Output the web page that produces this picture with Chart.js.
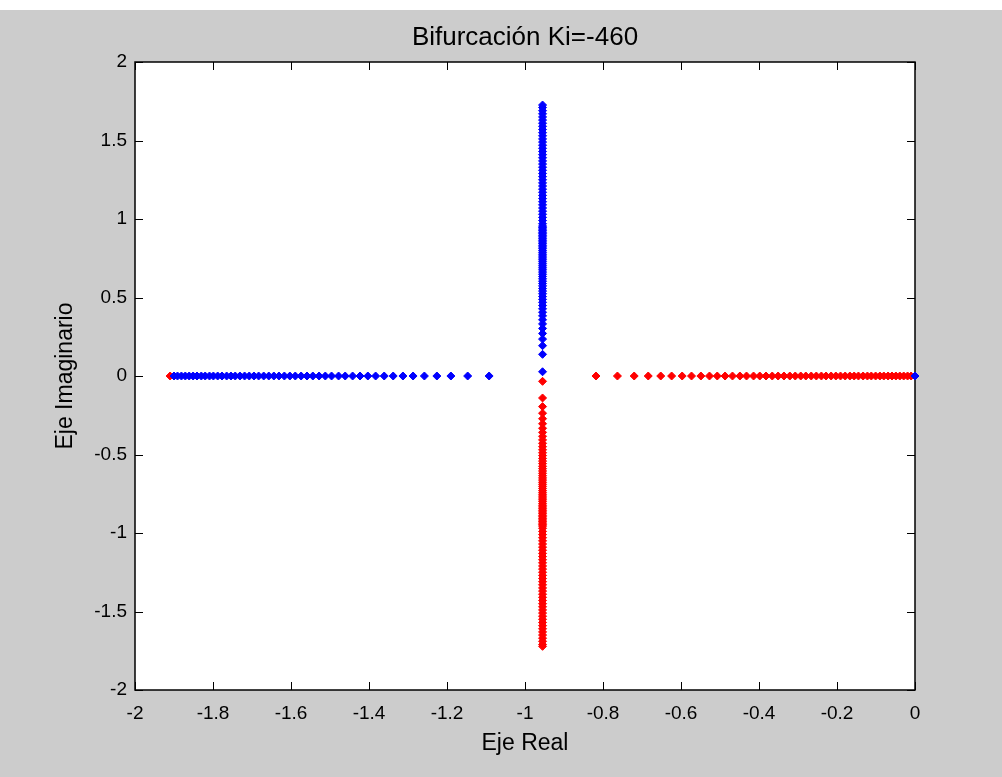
<!DOCTYPE html>
<html>
<head>
<meta charset="utf-8">
<script src="https://cdn.jsdelivr.net/npm/chart.js@4/dist/chart.umd.min.js"></script>
<style>
  html, body { margin: 0; padding: 0; background: #fff; }
  #wrap { position: absolute; left: 0; top: 10px; width: 1002px; height: 767px; background: #cccccc; }
</style>
</head>
<body>
<div id="wrap"><canvas id="locus" width="1002" height="767"></canvas></div>
<script>
// Bifurcation data
const titleText = "Bifurcación Ki=-460";
const realCenter = -0.955;

// roots on the real axis
const blueReal = [0, -1.900, -1.891, -1.881, -1.871, -1.861, -1.851, -1.841, -1.830, -1.820, -1.809,
  -1.799, -1.788, -1.777, -1.765, -1.754, -1.743, -1.731, -1.719, -1.707, -1.695, -1.683, -1.670,
  -1.657, -1.644, -1.631, -1.617, -1.603, -1.589, -1.574, -1.559, -1.544, -1.528, -1.512, -1.496,
  -1.478, -1.461, -1.442, -1.423, -1.403, -1.383, -1.361, -1.338, -1.313, -1.287, -1.258, -1.226,
  -1.190, -1.147, -1.092];
const redReal = [-1.910, -0.010, -0.019, -0.029, -0.039, -0.049, -0.059, -0.069, -0.080, -0.090,
  -0.101, -0.112, -0.122, -0.133, -0.145, -0.156, -0.167, -0.179, -0.191, -0.203, -0.215, -0.228,
  -0.240, -0.253, -0.266, -0.280, -0.293, -0.307, -0.321, -0.336, -0.351, -0.366, -0.382, -0.398,
  -0.414, -0.432, -0.449, -0.468, -0.487, -0.507, -0.527, -0.549, -0.573, -0.597, -0.624, -0.652,
  -0.684, -0.720, -0.763, -0.818];

// complex pair, imaginary parts (real part = realCenter)
const blueImag = [0.027, 0.138, 0.193, 0.235, 0.271, 0.303, 0.332, 0.358, 0.383, 0.406, 0.428,
  0.449, 0.469, 0.488, 0.506, 0.524, 0.541, 0.557, 0.574, 0.589, 0.604, 0.619, 0.634, 0.648, 0.662,
  0.676, 0.689, 0.702, 0.715, 0.728, 0.740, 0.752, 0.764, 0.776, 0.788, 0.799, 0.811, 0.822, 0.833,
  0.844, 0.854, 0.865, 0.875, 0.886, 0.896, 0.906, 0.916, 0.926, 0.936, 0.946, 0.955, 0.97, 0.99,
  1.01, 1.03, 1.05, 1.07, 1.09, 1.11, 1.13, 1.15, 1.17, 1.19, 1.21, 1.23, 1.25, 1.27, 1.29, 1.31,
  1.33, 1.35, 1.37, 1.39, 1.41, 1.43, 1.45, 1.47, 1.49, 1.51, 1.53, 1.55, 1.57, 1.59, 1.61, 1.63,
  1.65, 1.67, 1.69, 1.71, 1.726];
const redImag = [-0.034, -0.140, -0.195, -0.237, -0.272, -0.304, -0.333, -0.359, -0.384, -0.407,
  -0.429, -0.450, -0.470, -0.489, -0.507, -0.525, -0.542, -0.558, -0.575, -0.590, -0.605, -0.620,
  -0.635, -0.649, -0.663, -0.677, -0.690, -0.703, -0.716, -0.729, -0.741, -0.753, -0.765, -0.777,
  -0.789, -0.800, -0.812, -0.823, -0.834, -0.845, -0.855, -0.866, -0.876, -0.887, -0.897, -0.907,
  -0.917, -0.927, -0.937, -0.947, -0.956, -0.97, -0.99, -1.01, -1.03, -1.05, -1.07, -1.09, -1.11,
  -1.13, -1.15, -1.17, -1.19, -1.21, -1.23, -1.25, -1.27, -1.29, -1.31, -1.33, -1.35, -1.37, -1.39,
  -1.41, -1.43, -1.45, -1.47, -1.49, -1.51, -1.53, -1.55, -1.57, -1.59, -1.61, -1.63, -1.65, -1.67,
  -1.69, -1.71, -1.722];

const xMin = -2, xMax = 0, xStep = 0.2;
const yMin = -2, yMax = 2, yStep = 0.5;
const xLabel = "Eje Real";
const yLabel = "Eje Imaginario";

const bluePts = blueReal.map(v => ({ x: v, y: 0 }))
  .concat(blueImag.map(v => ({ x: realCenter, y: v })));
const redPts = redReal.map(v => ({ x: v, y: 0 }))
  .concat(redImag.map(v => ({ x: realCenter, y: v })));

Chart.defaults.font.family = "'Liberation Sans', Arial, sans-serif";
Chart.defaults.color = "#000";

// white plot area + matlab style box with inward ticks
const axesBox = {
  id: "axesBox",
  beforeDraw(chart) {
    const { ctx, chartArea: a } = chart;
    ctx.save();
    ctx.fillStyle = "#fff";
    ctx.fillRect(a.left, a.top, a.right - a.left, a.bottom - a.top);
    ctx.restore();
  },
  beforeDatasetsDraw(chart) {
    const { ctx, chartArea: a, scales } = chart;
    const len = 8;
    ctx.save();
    ctx.strokeStyle = "#000";
    ctx.lineWidth = 1.5;
    ctx.strokeRect(a.left, a.top, a.right - a.left, a.bottom - a.top);
    ctx.lineWidth = 1;
    ctx.beginPath();
    scales.x.ticks.forEach(t => {
      const px = Math.round(scales.x.getPixelForValue(t.value)) + 0.5;
      ctx.moveTo(px, a.bottom); ctx.lineTo(px, a.bottom - len);
      ctx.moveTo(px, a.top); ctx.lineTo(px, a.top + len);
    });
    scales.y.ticks.forEach(t => {
      const py = Math.round(scales.y.getPixelForValue(t.value)) + 0.5;
      ctx.moveTo(a.left, py); ctx.lineTo(a.left + len, py);
      ctx.moveTo(a.right, py); ctx.lineTo(a.right - len, py);
    });
    ctx.stroke();
    ctx.restore();
  }
};

const fmt = v => String(Number(v.toFixed(1)));

new Chart(document.getElementById("locus"), {
  type: "scatter",
  data: {
    datasets: [
      { label: "blue", data: bluePts, backgroundColor: "#0000ff", borderColor: "#0000ff",
        pointStyle: "rectRot", pointRadius: 4, borderWidth: 1, clip: false },
      { label: "red", data: redPts, backgroundColor: "#ff0000", borderColor: "#ff0000",
        pointStyle: "rectRot", pointRadius: 4, borderWidth: 1, clip: false }
    ]
  },
  options: {
    responsive: false,
    animation: false,
    layout: { padding: { left: 0, right: 87, top: 0, bottom: 0 } },
    plugins: {
      legend: { display: false },
      tooltip: { enabled: false },
      title: {
        display: true,
        fullSize: false,
        text: titleText,
        font: { size: 26, weight: "normal" },
        padding: { top: 12, bottom: 8.8 }
      }
    },
    scales: {
      x: {
        type: "linear", min: xMin, max: xMax,
        grid: { display: false },
        border: { display: false },
        ticks: { stepSize: xStep, padding: 4, font: { size: 19 }, callback: fmt, maxRotation: 0 },
        title: { display: true, text: xLabel, font: { size: 23 }, padding: { top: 0, bottom: 20 } },
        afterFit(scale) { scale.height = 87; }
      },
      y: {
        type: "linear", min: yMin, max: yMax,
        grid: { display: false },
        border: { display: false },
        ticks: { stepSize: yStep, padding: 0, font: { size: 19 }, callback: fmt },
        title: { display: true, text: yLabel, font: { size: 23 }, padding: { top: 52, bottom: 0 } },
        afterFit(scale) { scale.width = 135; }
      }
    }
  },
  plugins: [axesBox]
});
</script>
</body>
</html>
